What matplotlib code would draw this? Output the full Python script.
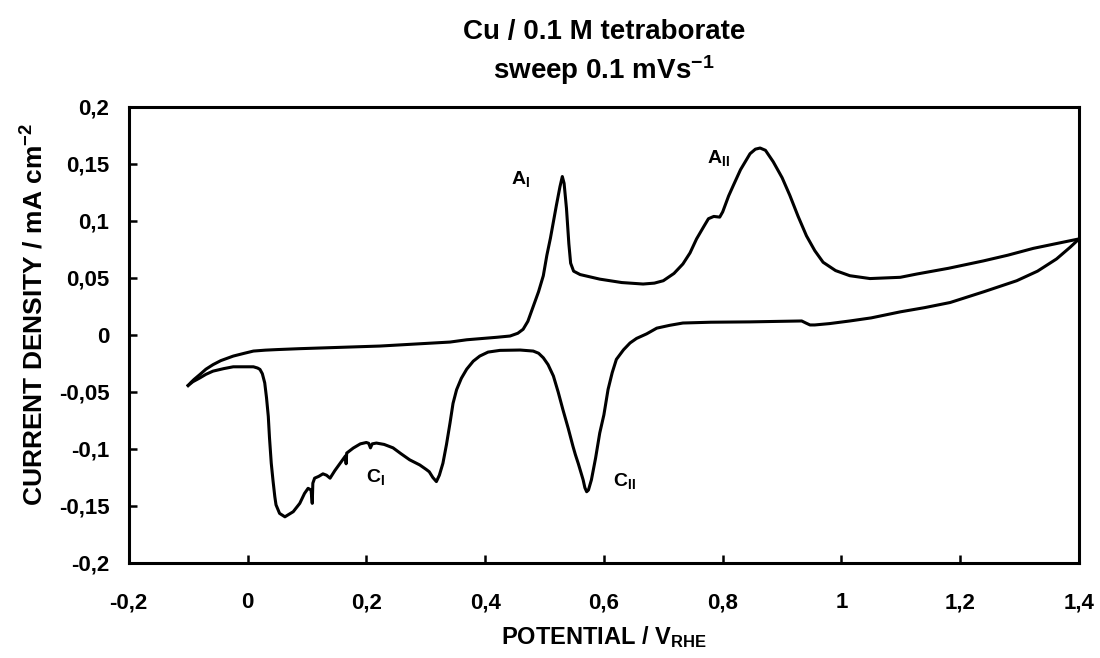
import numpy as np
import matplotlib
matplotlib.use('Agg')
import matplotlib.pyplot as plt
from matplotlib.ticker import FuncFormatter, MultipleLocator

plt.rcParams['font.family'] = ['Liberation Sans', 'DejaVu Sans']
plt.rcParams['font.weight'] = 'bold'
plt.rcParams['mathtext.fontset'] = 'custom'
plt.rcParams['mathtext.rm'] = 'Liberation Sans:bold'
plt.rcParams['mathtext.it'] = 'Liberation Sans:bold'
plt.rcParams['mathtext.bf'] = 'Liberation Sans:bold'
plt.rcParams['mathtext.default'] = 'rm'

# Anodic sweep (-0.1 V -> 1.4 V)
e_anodic = [-0.100, -0.095, -0.090, -0.080, -0.070, -0.058, -0.045, -0.024, -0.005, 0.010,
            0.030, 0.050, 0.088, 0.223, 0.341, 0.369, 0.420, 0.442, 0.455, 0.464,
            0.472, 0.481, 0.490, 0.498, 0.504, 0.510, 0.520, 0.526, 0.530, 0.533,
            0.537, 0.541, 0.544, 0.549, 0.560, 0.593, 0.630, 0.666, 0.685, 0.700,
            0.718, 0.733, 0.745, 0.756, 0.768, 0.776, 0.785, 0.795, 0.800, 0.810,
            0.818, 0.830, 0.846, 0.855, 0.863, 0.872, 0.885, 0.900, 0.913, 0.927,
            0.941, 0.955, 0.969, 0.990, 1.014, 1.048, 1.099, 1.127, 1.180, 1.239,
            1.280, 1.323, 1.360, 1.400]
j_anodic = [-0.0443, -0.0415, -0.0390, -0.0346, -0.0300, -0.0260, -0.0225, -0.0185, -0.0160, -0.0141,
            -0.0133, -0.0128, -0.0120, -0.0097, -0.0062, -0.0042, -0.0020, -0.0009, 0.0015, 0.0050,
            0.0120, 0.0250, 0.0380, 0.0520, 0.0700, 0.0850, 0.1137, 0.1300, 0.1390, 0.1330,
            0.1110, 0.0800, 0.0630, 0.0560, 0.0530, 0.0490, 0.0460, 0.0447, 0.0455, 0.0476,
            0.0540, 0.0623, 0.0720, 0.0843, 0.0950, 0.1020, 0.1040, 0.1034, 0.1080, 0.1220,
            0.1313, 0.1450, 0.1590, 0.1630, 0.1640, 0.1620, 0.1520, 0.1380, 0.1225, 0.1040,
            0.0870, 0.0740, 0.0638, 0.0565, 0.0520, 0.0495, 0.0506, 0.0535, 0.0585, 0.0650,
            0.0700, 0.0760, 0.0800, 0.0843]

# Cathodic sweep (1.4 V -> -0.1 V)
e_cathodic = [1.400, 1.385, 1.362, 1.330, 1.295, 1.240, 1.183, 1.140, 1.099, 1.050,
              1.014, 0.980, 0.955, 0.947, 0.940, 0.933, 0.900, 0.846, 0.780, 0.733,
              0.711, 0.689, 0.672, 0.655, 0.644, 0.633, 0.621, 0.614, 0.607, 0.600,
              0.593, 0.586, 0.579, 0.574, 0.571, 0.568, 0.565, 0.561, 0.557, 0.552,
              0.548, 0.540, 0.531, 0.523, 0.515, 0.506, 0.498, 0.490, 0.481, 0.459,
              0.425, 0.405, 0.391, 0.380, 0.369, 0.360, 0.352, 0.346, 0.341, 0.335,
              0.329, 0.323, 0.318, 0.312, 0.306, 0.301, 0.290, 0.273, 0.258, 0.245,
              0.230, 0.217, 0.210, 0.207, 0.204, 0.200, 0.190, 0.178, 0.167, 0.166,
              0.165, 0.156, 0.147, 0.139, 0.133, 0.127, 0.120, 0.113, 0.110, 0.109,
              0.107, 0.102, 0.096, 0.088, 0.077, 0.063, 0.054, 0.048, 0.046, 0.043,
              0.040, 0.037, 0.035, 0.032, 0.029, 0.025, 0.021, 0.017, 0.010, -0.024,
              -0.040, -0.058, -0.070, -0.080, -0.092, -0.100]
j_cathodic = [0.0843, 0.0770, 0.0667, 0.0560, 0.0476, 0.0380, 0.0285, 0.0240, 0.0203, 0.0150,
              0.0123, 0.0100, 0.0088, 0.0088, 0.0105, 0.0123, 0.0120, 0.0115, 0.0112, 0.0105,
              0.0085, 0.0060, 0.0010, -0.0030, -0.0070, -0.0130, -0.0214, -0.0330, -0.0478, -0.0700,
              -0.0860, -0.1080, -0.1270, -0.1360, -0.1375, -0.1340, -0.1270, -0.1200, -0.1130, -0.1050,
              -0.0978, -0.0820, -0.0655, -0.0500, -0.0360, -0.0260, -0.0200, -0.0160, -0.0141, -0.0132,
              -0.0135, -0.0150, -0.0185, -0.0230, -0.0300, -0.0380, -0.0480, -0.0600, -0.0770, -0.0960,
              -0.1125, -0.1230, -0.1286, -0.1250, -0.1200, -0.1180, -0.1140, -0.1095, -0.1040, -0.0990,
              -0.0960, -0.0948, -0.0955, -0.0990, -0.0950, -0.0943, -0.0955, -0.0992, -0.1036, -0.1130,
              -0.1060, -0.1125, -0.1190, -0.1256, -0.1230, -0.1218, -0.1240, -0.1256, -0.1300, -0.1477,
              -0.1360, -0.1345, -0.1390, -0.1477, -0.1550, -0.1595, -0.1565, -0.1490, -0.1419, -0.1280,
              -0.1125, -0.0900, -0.0714, -0.0550, -0.0420, -0.0340, -0.0302, -0.0290, -0.0279, -0.0279,
              -0.0295, -0.0317, -0.0345, -0.0376, -0.0410, -0.0443]

# Peak labels: text, potential, current density
peak_names = ['A$_{I}$', 'A$_{II}$', 'C$_{I}$', 'C$_{II}$']
peak_e = [0.459, 0.792, 0.216, 0.634]
peak_j = [0.137, 0.155, -0.1245, -0.128]


def comma_fmt(v, pos):
    s = '%g' % round(v, 3)
    return s.replace('.', ',')


fig = plt.figure(figsize=(11, 6.58), dpi=100)
ax = fig.add_axes([0.117, 0.1444, 0.864, 0.693])

ax.plot(e_anodic, j_anodic, color='black', linewidth=2.2, solid_joinstyle='round')
ax.plot(e_cathodic, j_cathodic, color='black', linewidth=2.2, solid_joinstyle='round')

for name, e, j in zip(peak_names, peak_e, peak_j):
    ax.text(e, j, name, fontsize=14, fontweight='bold', ha='center', va='center')

ax.set_xlim(-0.2, 1.4)
ax.set_ylim(-0.2, 0.2)
ax.xaxis.set_major_locator(MultipleLocator(0.2))
ax.yaxis.set_major_locator(MultipleLocator(0.05))
ax.xaxis.set_major_formatter(FuncFormatter(comma_fmt))
ax.yaxis.set_major_formatter(FuncFormatter(comma_fmt))

ax.tick_params(axis='both', direction='in', length=6, width=1.8, labelsize=16)
ax.tick_params(axis='x', pad=21)
ax.tick_params(axis='y', pad=14)
for sp in ax.spines.values():
    sp.set_linewidth(2.2)

fig.text(0.549, 1 - 637 / 658, 'POTENTIAL / V$_{RHE}$', fontsize=17, fontweight='bold',
         ha='center', va='center')
fig.text(35 / 1100, 1 - 314 / 658, 'CURRENT DENSITY / mA cm$^{-2}$', fontsize=19,
         fontweight='bold', rotation=90, ha='center', va='center')

fig.text(0.549, 1 - 32 / 658, 'Cu / 0.1 M tetraborate', fontsize=20, fontweight='bold',
         ha='center', va='center')
fig.text(0.549, 1 - 70 / 658, 'sweep 0.1 mVs$^{-1}$', fontsize=20, fontweight='bold',
         ha='center', va='center')

fig.savefig('out.png', dpi=100)
